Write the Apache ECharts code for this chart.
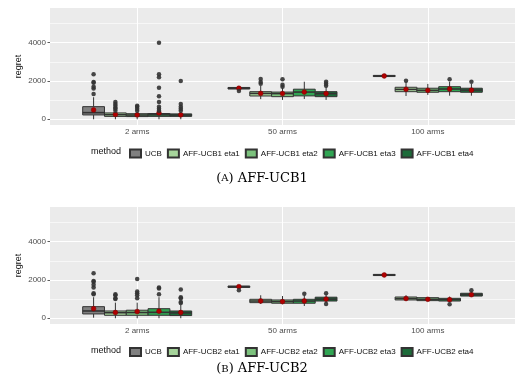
<!DOCTYPE html>
<html><head><meta charset="utf-8">
<script src="https://cdn.jsdelivr.net/npm/echarts@6/dist/echarts.min.js"></script>
<style>html,body{margin:0;padding:0;background:#fff}#c{width:524px;height:392px}</style>
</head><body><div id="c"></div><script>
// ---------- data ----------
const categories = ['2 arms', '50 arms', '100 arms'];
const yTickValues = [0, 2000, 4000];
const yMinorValues = [1000, 3000, 5000];
const methodsA = ['UCB', 'AFF-UCB1 eta1', 'AFF-UCB1 eta2', 'AFF-UCB1 eta3', 'AFF-UCB1 eta4'];
const methodsB = ['UCB', 'AFF-UCB2 eta1', 'AFF-UCB2 eta2', 'AFF-UCB2 eta3', 'AFF-UCB2 eta4'];

// each row: [lower whisker, Q1, median, Q3, upper whisker, mean] for 2 / 50 / 100 arms
const a_ucb  = [[0,225,345,658,1150,485],[1520,1580,1620,1660,1700,1620],[2180,2230,2260,2290,2340,2260]];
const a_eta1 = [[0,150,240,330,400,250],[1050,1215,1350,1440,1750,1350],[1215,1440,1560,1670,1950,1565]];
const a_eta2 = [[0,140,220,290,380,230],[1010,1180,1340,1420,1650,1340],[1270,1410,1510,1620,1845,1510]];
const a_eta3 = [[0,150,230,300,380,330],[1060,1220,1420,1570,1960,1420],[1230,1440,1580,1700,1960,1580]];
const a_eta4 = [[0,150,220,280,380,230],[1010,1180,1340,1440,1700,1340],[1230,1410,1520,1620,1850,1520]];
const a_ucb_out  = [[1320,1600,1700,1900,1950,2350],[1480],[]];
const a_eta1_out = [[450,550,600,700,800,900],[1850,1950,2100],[2015]];
const a_eta2_out = [[450,550,650,700],[1700,1800,2090],[]];
const a_eta3_out = [[450,550,650,900,1200,1650,2200,2350,4000],[],[2090]];
const a_eta4_out = [[450,550,650,800,2000],[1750,1850,1960],[1960]];

const b_ucb  = [[30,225,380,605,1100,500],[1560,1610,1650,1680,1700,1650],[2190,2230,2260,2290,2330,2260]];
const b_eta1 = [[0,155,290,380,815,300],[750,815,900,990,1200,900],[900,955,1030,1110,1200,1030]];
const b_eta2 = [[0,155,300,420,815,350],[730,785,870,955,1160,870],[900,920,990,1075,1100,990]];
const b_eta3 = [[0,155,310,500,1100,370],[640,785,900,990,1200,900],[850,900,970,1040,1130,970]];
const b_eta4 = [[0,140,280,380,700,300],[800,900,1000,1100,1250,1000],[1160,1160,1230,1305,1400,1230]];
const b_ucb_out  = [[1250,1300,1600,1750,1900,1950,2350],[1460],[]];
const b_eta1_out = [[1000,1050,1200,1250],[],[]];
const b_eta2_out = [[1050,1200,1300,1400,2050],[],[]];
const b_eta3_out = [[1250,1550,1600],[1285],[730]];
const b_eta4_out = [[800,850,1050,1100,1500],[745,1300],[1460]];

// ---------- styling ----------
const fills = ['#808080', '#a6d49b', '#7cc27d', '#30a553', '#1c6b39'];
const FONT = 'Liberation Sans';
const dodge = 0.15;

const chart = echarts.init(document.getElementById('c'), null, {renderer: 'canvas'});

function renderBox(fill) {
  return function (params, api) {
    const x = api.value(0), lo = api.value(1), q1 = api.value(2), md = api.value(3),
          q3 = api.value(4), hi = api.value(5), mean = api.value(6);
    const hw = dodge / 2;
    const tl = api.coord([x - hw, q3]), br = api.coord([x + hw, q1]);
    const pHi = api.coord([x, hi]), pLo = api.coord([x, lo]);
    const mL = api.coord([x - hw, md]), mR = api.coord([x + hw, md]);
    const pm = api.coord([x, mean]);
    const ln = {stroke: '#333333', lineWidth: 1};
    return {type: 'group', children: [
      {type: 'line', shape: {x1: pHi[0], y1: pHi[1], x2: pHi[0], y2: tl[1]}, style: ln},
      {type: 'line', shape: {x1: pLo[0], y1: pLo[1], x2: pLo[0], y2: br[1]}, style: ln},
      {type: 'rect', shape: {x: tl[0], y: tl[1], width: br[0] - tl[0], height: br[1] - tl[1]},
        style: {fill: fill, stroke: '#333333', lineWidth: 1}},
      {type: 'line', shape: {x1: mL[0], y1: mL[1], x2: mR[0], y2: mR[1]}, style: {stroke: '#333333', lineWidth: 1.6}},
      {type: 'circle', shape: {cx: pm[0], cy: pm[1], r: 2.4}, style: {fill: '#b00000', stroke: '#7a0000', lineWidth: 0.5}}
    ]};
  };
}

function panelSeries(gi, names, stats, outs) {
  const s = [];
  s.push({
    type: 'line', xAxisIndex: gi, yAxisIndex: gi, data: [], silent: true, z: 1,
    markLine: {
      silent: true, symbol: 'none', z: 1, animation: false,
      label: {show: false}, emphasis: {disabled: true},
      data: [
        ...yMinorValues.map(v => ({yAxis: v, lineStyle: {color: '#ffffff', width: 0.6, type: 'solid'}})),
        ...yTickValues.map(v => ({yAxis: v, lineStyle: {color: '#ffffff', width: 1.1, type: 'solid'}})),
        ...categories.map((c, i) => ({xAxis: i + 1, lineStyle: {color: '#ffffff', width: 1.1, type: 'solid'}}))
      ]
    }
  });
  names.forEach((nm, m) => {
    s.push({
      name: nm, type: 'custom', xAxisIndex: gi, yAxisIndex: gi, z: 3,
      itemStyle: {color: fills[m], borderColor: '#333333', borderWidth: 1},
      renderItem: renderBox(fills[m]),
      encode: {x: 0, y: [1, 2, 3, 4, 5, 6]},
      data: stats[m].map((r, i) => [i + 1 + (m - 2) * dodge, ...r])
    });
  });
  names.forEach((nm, m) => {
    const pts = [];
    outs[m].forEach((arr, i) => arr.forEach(v => pts.push([i + 1 + (m - 2) * dodge, v])));
    s.push({
      name: nm, type: 'scatter', xAxisIndex: gi, yAxisIndex: gi, z: 4,
      symbol: 'circle', symbolSize: 4.5, silent: true,
      itemStyle: {color: '#333333', opacity: 0.9},
      data: pts
    });
  });
  return s;
}

const grids = [
  {left: 50, top: 8, width: 465, height: 117, show: true, backgroundColor: '#ebebeb', borderWidth: 0},
  {left: 50, top: 207, width: 465, height: 117, show: true, backgroundColor: '#ebebeb', borderWidth: 0}
];

function xAx(gi) {
  return {
    type: 'value', gridIndex: gi, min: 0.4, max: 3.6,
    splitLine: {show: false}, axisLine: {show: false},
    axisTick: {show: true, customValues: [1, 2, 3], length: 2.5, lineStyle: {color: '#333333', width: 0.8}},
    axisLabel: {customValues: [1, 2, 3], formatter: v => categories[Math.round(v) - 1],
      fontFamily: FONT, fontSize: 8, color: '#4d4d4d', margin: 3}
  };
}
function yAx(gi) {
  return {
    type: 'value', gridIndex: gi, min: -300, max: 5810,
    splitLine: {show: false}, axisLine: {show: false},
    axisTick: {show: true, customValues: yTickValues, length: 2.5, lineStyle: {color: '#333333', width: 0.8}},
    axisLabel: {customValues: yTickValues, formatter: v => String(v),
      fontFamily: FONT, fontSize: 8, color: '#4d4d4d', margin: 4},
    name: 'regret', nameLocation: 'middle', nameGap: 27, nameRotate: 90, nameMoveOverlap: false,
    nameTextStyle: {fontFamily: FONT, fontSize: 9, color: '#111111'}
  };
}

function legendFor(names, top) {
  return {
    data: names, left: 129, top: top, orient: 'horizontal', padding: 0,
    icon: 'rect', itemWidth: 11, itemHeight: 8, itemGap: 5, selectedMode: false,
    textStyle: {fontFamily: FONT, fontSize: 8, color: '#111111', padding: [0, 0, 0, -1]}
  };
}

const capRich = {
  p: {fontFamily: 'DejaVu Serif', fontSize: 13, color: '#111111'},
  s: {fontFamily: 'DejaVu Serif', fontSize: 10, color: '#111111'}
};

chart.setOption({
  animation: false,
  grid: grids,
  xAxis: [xAx(0), xAx(1)],
  yAxis: [yAx(0), yAx(1)],
  legend: [legendFor(methodsA, 148.5), legendFor(methodsB, 347)],
  graphic: [
    {type: 'text', left: 91, top: 147.5, style: {text: 'method', font: '9px "Liberation Sans"', fill: '#111111'}},
    {type: 'text', left: 91, top: 346, style: {text: 'method', font: '9px "Liberation Sans"', fill: '#111111'}},
    {type: 'text', left: 'center', top: 172, style: {text: '{p|(}{s|A}{p|) AFF-UCB1}', rich: capRich}},
    {type: 'text', left: 'center', top: 362.5, style: {text: '{p|(}{s|B}{p|) AFF-UCB2}', rich: capRich}}
  ],
  series: [
    ...panelSeries(0, methodsA, [a_ucb, a_eta1, a_eta2, a_eta3, a_eta4],
      [a_ucb_out, a_eta1_out, a_eta2_out, a_eta3_out, a_eta4_out]),
    ...panelSeries(1, methodsB, [b_ucb, b_eta1, b_eta2, b_eta3, b_eta4],
      [b_ucb_out, b_eta1_out, b_eta2_out, b_eta3_out, b_eta4_out])
  ]
});
</script></body></html>
